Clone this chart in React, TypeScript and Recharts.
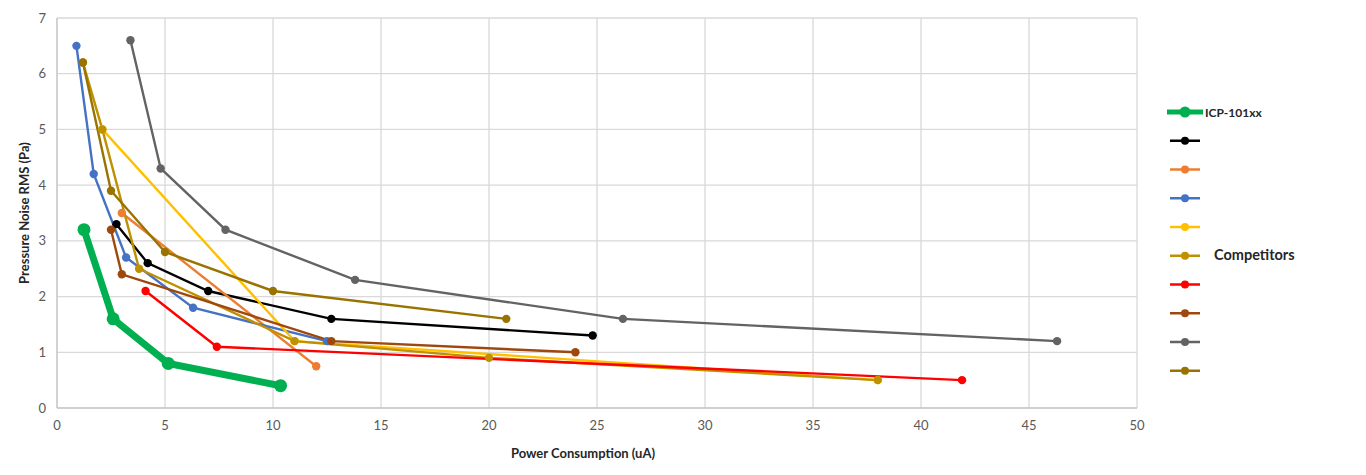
import React from "react";
import { CartesianGrid, Line, LineChart, XAxis, YAxis } from "recharts";

// power consumption (uA) / pressure noise RMS (Pa)
const icpPower = [1.25, 2.6, 5.15, 10.35];
const icpNoise = [3.2, 1.6, 0.8, 0.4];

const blackPower = [2.75, 4.2, 7.0, 12.7, 24.8];
const blackNoise = [3.3, 2.6, 2.1, 1.6, 1.3];

const orangePower = [3.0, 12.0];
const orangeNoise = [3.5, 0.75];

const bluePower = [0.9, 1.7, 3.2, 6.3, 12.5];
const blueNoise = [6.5, 4.2, 2.7, 1.8, 1.2];

const yellowPower = [2.1, 11.0, 38.0];
const yellowNoise = [5.0, 1.2, 0.5];

const goldPower = [1.2, 2.1, 3.8, 11.0, 20.0, 38.0];
const goldNoise = [6.2, 5.0, 2.5, 1.2, 0.9, 0.5];

const redPower = [4.1, 7.4, 41.9];
const redNoise = [2.1, 1.1, 0.5];

const brownPower = [2.5, 3.0, 12.7, 24.0];
const brownNoise = [3.2, 2.4, 1.2, 1.0];

const grayPower = [3.4, 4.8, 7.8, 13.8, 26.2, 46.3];
const grayNoise = [6.6, 4.3, 3.2, 2.3, 1.6, 1.2];

const darkGoldPower = [1.2, 2.5, 5.0, 10.0, 20.8];
const darkGoldNoise = [6.2, 3.9, 2.8, 2.1, 1.6];

const xTicks = [0, 5, 10, 15, 20, 25, 30, 35, 40, 45, 50];
const yTicks = [0, 1, 2, 3, 4, 5, 6, 7];

const toPoints = (xs: number[], ys: number[]) => xs.map((x, i) => ({ x, y: ys[i] }));

const series = [
  { key: "icp", name: "ICP-101xx", color: "#00B050", pts: toPoints(icpPower, icpNoise), main: true },
  { key: "black", name: "", color: "#000000", pts: toPoints(blackPower, blackNoise) },
  { key: "orange", name: "", color: "#ED7D31", pts: toPoints(orangePower, orangeNoise) },
  { key: "blue", name: "", color: "#4472C4", pts: toPoints(bluePower, blueNoise) },
  { key: "yellow", name: "", color: "#FFC000", pts: toPoints(yellowPower, yellowNoise) },
  { key: "gold", name: "", color: "#BF9000", pts: toPoints(goldPower, goldNoise) },
  { key: "red", name: "", color: "#FF0000", pts: toPoints(redPower, redNoise) },
  { key: "brown", name: "", color: "#9E480E", pts: toPoints(brownPower, brownNoise) },
  { key: "gray", name: "", color: "#636363", pts: toPoints(grayPower, grayNoise) },
  { key: "darkgold", name: "", color: "#997300", pts: toPoints(darkGoldPower, darkGoldNoise) },
];

const font = "Lato, 'Open Sans', sans-serif";

function LegendBox() {
  const rowGap = 28.75;
  return (
    <svg width={220} height={300} style={{ position: "absolute", left: 1150, top: 95 }}>
      {series.map((s, i) => {
        const cy = 17 + i * rowGap;
        return (
          <g key={s.key}>
            <line x1={s.main ? 17 : 20} x2={s.main ? 53 : 50} y1={cy} y2={cy} stroke={s.color} strokeWidth={s.main ? 5 : 2.5} />
            <circle cx={35} cy={cy} r={s.main ? 5.5 : 4} fill={s.color} />
            {s.main && (
              <text x={55} y={cy} dominantBaseline="central" fontSize={12} fontWeight={700} fill="#262626" fontFamily={font}>
                {s.name}
              </text>
            )}
          </g>
        );
      })}
      <text x={64} y={15.5 + 5 * rowGap} dominantBaseline="central" fontSize={14.5} fontWeight={700} fill="#262626" fontFamily={font}>
        Competitors
      </text>
    </svg>
  );
}

export default function App() {
  return (
    <div style={{ position: "absolute", left: 0, top: 0, width: 1366, height: 475, background: "#fff" }}>
      <LineChart width={1366} height={475} margin={{ top: 18, right: 229, bottom: 12, left: 15 }} style={{ fontFamily: font }}>
        <CartesianGrid stroke="#d9d9d9" strokeWidth={1.3} />
        <XAxis
          type="number"
          dataKey="x"
          domain={[0, 50]}
          ticks={xTicks}
          allowDuplicatedCategory={false}
          height={55}
          stroke="#bfbfbf"
          tickLine={false}
          tickSize={10}
          tickMargin={3}
          tick={{ fill: "#595959", fontSize: 13 }}
          label={(p: any) => (
            <text
              x={p.viewBox.x + p.viewBox.width / 2 - 14}
              y={p.viewBox.y + 45}
              textAnchor="middle"
              dominantBaseline="central"
              fontSize={13}
              fontWeight={700}
              fill="#262626"
            >
              Power Consumption  (uA)
            </text>
          )}
        />
        <YAxis
          type="number"
          dataKey="y"
          domain={[0, 7]}
          ticks={yTicks}
          width={42}
          stroke="#bfbfbf"
          tickLine={false}
          tickSize={8}
          tickMargin={3}
          tick={{ fill: "#595959", fontSize: 13 }}
          label={(p: any) => {
            const cx = p.viewBox.x + 9;
            const cy = p.viewBox.y + p.viewBox.height / 2;
            return (
              <text
                x={cx}
                y={cy}
                transform={`rotate(-90 ${cx} ${cy})`}
                textAnchor="middle"
                dominantBaseline="central"
                fontSize={13}
                fontWeight={700}
                fill="#262626"
              >
                Pressure Noise RMS (Pa)
              </text>
            );
          }}
        />
        {series.map((s) => (
          <Line
            key={s.key}
            data={s.pts}
            dataKey="y"
            name={s.name || s.key}
            type="linear"
            stroke={s.color}
            strokeWidth={s.main ? 7 : 2.4}
            dot={{ r: s.main ? 6.5 : 4.2, fill: s.color, stroke: s.color, strokeWidth: 0 }}
            activeDot={false}
            isAnimationActive={false}
          />
        ))}
      </LineChart>
      <LegendBox />
    </div>
  );
}
